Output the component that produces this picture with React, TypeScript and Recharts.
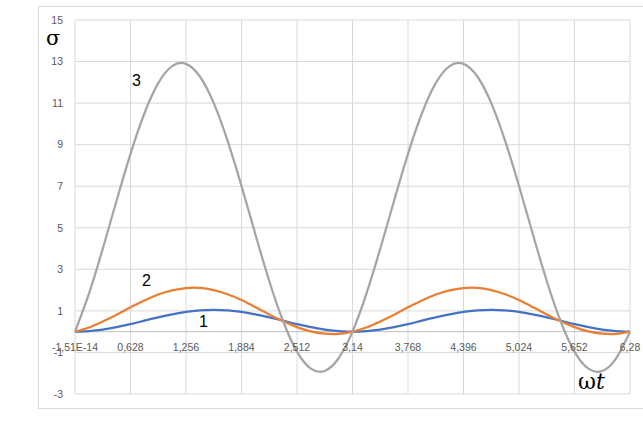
import React from "react";
import {
  LineChart,
  Line,
  XAxis,
  YAxis,
  CartesianGrid,
  ReferenceLine,
} from "recharts";

// ωt sample points
const omegaT = [
  0, 0.157, 0.314, 0.471, 0.628, 0.785, 0.942, 1.099, 1.256, 1.413, 1.57,
  1.727, 1.884, 2.041, 2.198, 2.355, 2.512, 2.669, 2.826, 2.983, 3.14,
  3.297, 3.454, 3.611, 3.768, 3.925, 4.082, 4.239, 4.396, 4.553, 4.71,
  4.867, 5.024, 5.181, 5.338, 5.495, 5.652, 5.809, 5.966, 6.123, 6.28,
];

// curve 1 (blue)
const sigma1 = [
  0, 0.03, 0.1, 0.22, 0.36, 0.53, 0.69, 0.83, 0.95, 1.02, 1.05,
  1.02, 0.95, 0.83, 0.69, 0.53, 0.36, 0.22, 0.1, 0.03, 0,
  0.03, 0.1, 0.22, 0.36, 0.53, 0.69, 0.83, 0.95, 1.02, 1.05,
  1.02, 0.95, 0.83, 0.69, 0.53, 0.36, 0.22, 0.1, 0.03, 0,
];

// curve 2 (orange)
const sigma2 = [
  0, 0.2, 0.49, 0.82, 1.17, 1.5, 1.79, 1.99, 2.1, 2.11, 2.0,
  1.8, 1.52, 1.18, 0.83, 0.5, 0.22, 0.01, -0.1, -0.11, 0,
  0.2, 0.49, 0.82, 1.17, 1.5, 1.79, 1.99, 2.1, 2.11, 2.0,
  1.8, 1.52, 1.18, 0.83, 0.5, 0.22, 0.01, -0.1, -0.11, 0,
];

// curve 3 (gray)
const sigma3 = [
  0, 1.82, 3.99, 6.31, 8.56, 10.5, 11.96, 12.78, 12.89, 12.28, 11.0,
  9.18, 7.01, 4.69, 2.44, 0.5, -0.96, -1.78, -1.89, -1.28, 0,
  1.82, 3.99, 6.31, 8.56, 10.5, 11.96, 12.78, 12.89, 12.28, 11.0,
  9.18, 7.01, 4.69, 2.44, 0.5, -0.96, -1.78, -1.89, -1.28, 0,
];

const xTicks = [0, 0.628, 1.256, 1.884, 2.512, 3.14, 3.768, 4.396, 5.024, 5.652, 6.28];
const xTickLabels = [
  "-1,51E-14", "0,628", "1,256", "1,884", "2,512", "3,14",
  "3,768", "4,396", "5,024", "5,652", "6,28",
];
const yTicks = [-3, -1, 1, 3, 5, 7, 9, 11, 13, 15];

const data = omegaT.map((x, i) => ({
  x,
  s1: sigma1[i],
  s2: sigma2[i],
  s3: sigma3[i],
}));

const W = 643;
const H = 429;
const PLOT_TOP = 20;
const PLOT_BOTTOM = 394;
const X_AXIS_H = 20;
const Y_MIN = -3;
const Y_MAX = 15;
// pixel row of sigma = 0, where Excel puts the category labels
const ZERO_Y = PLOT_TOP + ((Y_MAX - 0) / (Y_MAX - Y_MIN)) * (PLOT_BOTTOM - PLOT_TOP);

const tickFont = "'Liberation Sans', Arial, sans-serif";
const noteFont = "'Liberation Sans', Arial, sans-serif";

const renderXTick = (props: any) => {
  const { x, payload } = props;
  const i = xTicks.indexOf(payload?.value);
  return (
    <text
      key={`xt-${i}`}
      x={x}
      y={ZERO_Y + 19}
      textAnchor="middle"
      fontSize={10.5}
      fontFamily={tickFont}
      fill="#595959"
    >
      {i >= 0 ? xTickLabels[i] : ""}
    </text>
  );
};

const note = (left: number, top: number, size = 16): React.CSSProperties => ({
  position: "absolute",
  left,
  top,
  fontSize: size,
  fontFamily: noteFont,
  color: "#000",
  lineHeight: 1,
});

export default function App() {
  return (
    <div style={{ position: "fixed", left: 0, top: 0, width: W, height: H, background: "#fff" }}>
      <div
        style={{
          position: "absolute",
          left: 38,
          top: 6,
          width: 620,
          height: 401,
          border: "1px solid #d9d9d9",
        }}
      />
      <div style={{ position: "absolute", left: 0, top: 0 }}>
        <LineChart
          width={W}
          height={H}
          data={data}
          margin={{ top: PLOT_TOP, right: 13, bottom: H - PLOT_BOTTOM - X_AXIS_H, left: 35 }}
        >
          <CartesianGrid stroke="#d9d9d9" strokeWidth={1} />
          <XAxis
            dataKey="x"
            type="number"
            domain={[0, 6.28]}
            ticks={xTicks}
            height={X_AXIS_H}
            axisLine={false}
            tickLine={false}
            tick={renderXTick}
            interval={0}
          />
          <YAxis
            type="number"
            domain={[Y_MIN, Y_MAX]}
            ticks={yTicks}
            width={40}
            axisLine={false}
            tickLine={false}
            tickMargin={6}
            interval={0}
            tick={{ fontSize: 10.5, fill: "#595959", fontFamily: tickFont }}
          />
          <ReferenceLine y={0} stroke="#bfbfbf" strokeWidth={1} />
          <Line
            type="natural"
            dataKey="s1"
            stroke="#4472C4"
            strokeWidth={2.25}
            dot={false}
            isAnimationActive={false}
          />
          <Line
            type="natural"
            dataKey="s2"
            stroke="#ED7D31"
            strokeWidth={2.25}
            dot={false}
            isAnimationActive={false}
          />
          <Line
            type="natural"
            dataKey="s3"
            stroke="#A5A5A5"
            strokeWidth={2.25}
            dot={false}
            isAnimationActive={false}
          />
        </LineChart>
      </div>
      <div style={{ ...note(46, 28, 21), fontFamily: "'DejaVu Serif', serif" }}>σ</div>
      <div style={note(132, 73)}>3</div>
      <div style={note(142, 273)}>2</div>
      <div style={note(199, 314)}>1</div>
      <div style={{ ...note(578, 371, 22), fontFamily: "'DejaVu Serif', serif" }}>
        ω<i>t</i>
      </div>
    </div>
  );
}
